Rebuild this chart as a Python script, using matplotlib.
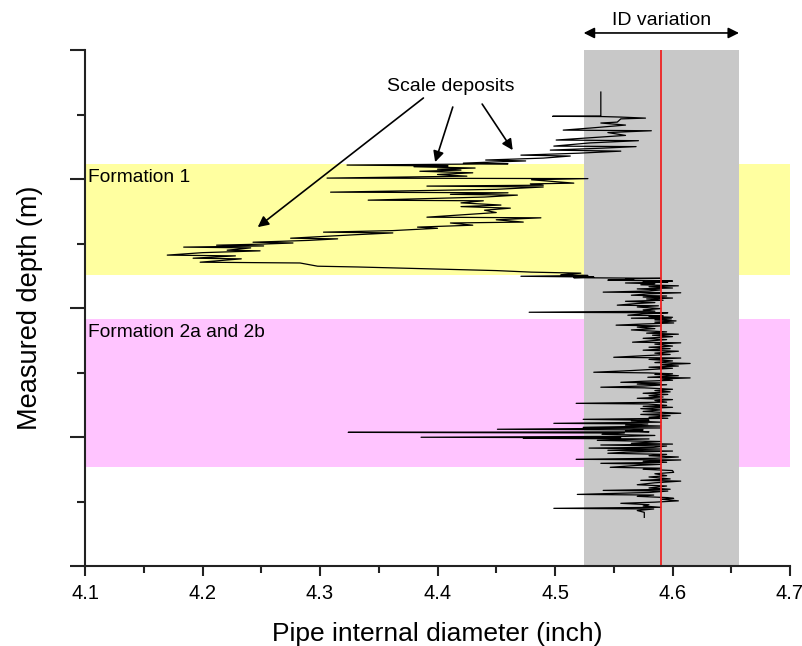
import matplotlib
matplotlib.use("Agg")
import matplotlib.pyplot as plt
from matplotlib.ticker import MultipleLocator, NullFormatter

plt.rcParams['font.family'] = ['Liberation Sans', 'DejaVu Sans']

# ---------------- data ----------------
x_ticks = [4.1, 4.2, 4.3, 4.4, 4.5, 4.6, 4.7]
x_tick_labels = ["4.1", "4.2", "4.3", "4.4", "4.5", "4.6", "4.7"]

id_min = 4.5244
id_max = 4.6566
id_nominal = 4.590

formation_names = ["Formation 1", "Formation 2a and 2b"]
formation_top = [88.4, 208.7]
formation_bottom = [174.6, 323.5]
formation_colors = ["#ffffa0", "#ffc4ff"]

# upper log (above and inside Formation 1)
pipe_id_upper = [
    4.539, 4.539, 4.498, 4.540, 4.556, 4.577, 4.556, 4.553, 4.539, 4.560,
    4.530, 4.507, 4.582, 4.545, 4.560, 4.501, 4.571, 4.530, 4.499, 4.569,
    4.540, 4.496, 4.556, 4.520, 4.471, 4.513, 4.490, 4.441, 4.475, 4.445,
    4.422, 4.460, 4.323, 4.409, 4.380, 4.432, 4.400, 4.420, 4.385, 4.430,
    4.400, 4.425, 4.306, 4.528, 4.480, 4.500, 4.516, 4.479, 4.490, 4.391,
    4.490, 4.450, 4.309, 4.460, 4.411, 4.468, 4.440, 4.341, 4.439, 4.420,
    4.454, 4.420, 4.462, 4.440, 4.450, 4.391, 4.488, 4.450, 4.473, 4.411,
    4.430, 4.383, 4.400, 4.362, 4.303, 4.362, 4.330, 4.275, 4.315, 4.290,
    4.243, 4.277, 4.250, 4.212, 4.252, 4.184, 4.241, 4.221, 4.249, 4.200,
    4.170, 4.228, 4.192, 4.233, 4.198, 4.283, 4.298, 4.332, 4.370, 4.411,
    4.450, 4.480, 4.522, 4.505, 4.528, 4.471, 4.533, 4.516,
]
depth_upper = [
    32.6, 51.2, 51.4, 51.6, 52.0, 52.8, 53.4, 55.9, 56.6, 58.2,
    60.5, 62.1, 62.6, 64.0, 66.2, 69.8, 70.3, 72.0, 74.5, 74.9,
    76.1, 77.6, 78.4, 80.0, 81.5, 82.2, 83.8, 85.3, 86.0, 86.9,
    87.7, 88.2, 89.2, 89.9, 90.5, 91.5, 92.4, 93.1, 94.0, 95.2,
    96.5, 97.8, 99.3, 99.7, 100.6, 102.0, 103.2, 103.8, 104.8, 105.5,
    106.2, 108.0, 110.2, 110.7, 111.9, 112.5, 114.0, 116.4, 116.9, 118.5,
    120.2, 121.4, 122.6, 124.2, 126.0, 129.6, 130.1, 131.6, 133.4, 134.1,
    135.8, 137.3, 138.2, 140.0, 141.2, 141.8, 143.2, 145.9, 146.4, 147.6,
    149.0, 149.6, 150.5, 151.3, 151.9, 152.8, 153.4, 155.2, 155.7, 157.1,
    159.0, 159.6, 161.4, 161.9, 164.5, 165.1, 167.6, 168.2, 169.1, 170.1,
    171.0, 172.2, 173.0, 174.2, 174.8, 175.4, 176.0, 176.5,
]

# lower log (below Formation 1, through Formation 2a/2b)
pipe_id_lower = [
    4.590, 4.560, 4.567, 4.545, 4.600, 4.575, 4.596, 4.560, 4.585, 4.573,
    4.605, 4.580, 4.600, 4.570, 4.590, 4.580, 4.541, 4.607, 4.580, 4.565,
    4.595, 4.575, 4.600, 4.578, 4.592, 4.560, 4.585, 4.570, 4.553, 4.588,
    4.570, 4.590, 4.575, 4.585, 4.478, 4.596, 4.575, 4.562, 4.592, 4.580,
    4.600, 4.565, 4.599, 4.585, 4.603, 4.585, 4.601, 4.575, 4.552, 4.590,
    4.570, 4.585, 4.565, 4.595, 4.578, 4.605, 4.583, 4.600, 4.575, 4.595,
    4.580, 4.566, 4.607, 4.585, 4.600, 4.580, 4.598, 4.575, 4.605, 4.585,
    4.598, 4.575, 4.550, 4.607, 4.580, 4.600, 4.585, 4.615, 4.590, 4.605,
    4.580, 4.600, 4.585, 4.565, 4.533, 4.579, 4.600, 4.585, 4.605, 4.579,
    4.615, 4.590, 4.600, 4.575, 4.556, 4.590, 4.570, 4.595, 4.575, 4.539,
    4.576, 4.600, 4.585, 4.598, 4.575, 4.596, 4.580, 4.592, 4.570, 4.600,
    4.585, 4.595, 4.518, 4.579, 4.595, 4.575, 4.600, 4.573, 4.590, 4.575,
    4.607, 4.573, 4.598, 4.580, 4.596, 4.524, 4.580, 4.565, 4.590, 4.499,
    4.579, 4.560, 4.590, 4.524, 4.590, 4.451, 4.575, 4.560, 4.580, 4.324,
    4.559, 4.540, 4.585, 4.560, 4.386, 4.556, 4.473, 4.580, 4.536, 4.590,
    4.565, 4.600, 4.539, 4.595, 4.584, 4.529, 4.590, 4.545, 4.600, 4.560,
    4.545, 4.595, 4.580, 4.605, 4.585, 4.518, 4.607, 4.575, 4.595, 4.539,
    4.590, 4.570, 4.547, 4.590, 4.575, 4.600, 4.601, 4.585, 4.595, 4.580,
    4.598, 4.573, 4.607, 4.585, 4.570, 4.595, 4.580, 4.598, 4.541, 4.596,
    4.580, 4.519, 4.584, 4.570, 4.596, 4.601, 4.590, 4.605, 4.585, 4.556,
    4.580, 4.575, 4.590, 4.499, 4.584, 4.570, 4.576, 4.576,
]
depth_lower = [
    177.0, 177.4, 178.0, 178.4, 179.1, 179.6, 180.0, 180.6, 181.2, 182.0,
    182.8, 183.5, 184.5, 185.2, 186.0, 186.8, 187.7, 188.2, 189.0, 190.1,
    190.7, 191.5, 192.3, 193.0, 194.0, 194.8, 195.8, 196.5, 197.8, 198.3,
    199.2, 200.5, 201.5, 202.5, 203.3, 203.7, 204.5, 205.6, 206.0, 206.5,
    207.2, 207.9, 208.4, 209.2, 210.0, 211.0, 211.6, 212.4, 213.3, 213.9,
    214.8, 216.0, 217.0, 218.5, 219.5, 220.3, 221.1, 222.2, 223.5, 224.5,
    225.5, 226.5, 227.0, 228.0, 229.5, 230.4, 231.5, 232.7, 233.5, 235.0,
    236.0, 237.0, 238.2, 238.8, 239.8, 241.0, 242.3, 243.0, 244.0, 245.0,
    245.9, 246.7, 247.5, 248.5, 249.8, 250.3, 251.0, 251.5, 252.5, 253.7,
    254.2, 255.0, 256.0, 256.8, 257.6, 258.1, 259.0, 259.5, 260.5, 261.4,
    261.9, 263.0, 264.0, 265.0, 266.1, 267.0, 268.0, 269.0, 270.0, 271.0,
    271.8, 273.0, 273.9, 274.4, 275.5, 276.2, 277.0, 278.0, 279.0, 280.2,
    281.6, 282.5, 283.5, 284.7, 285.5, 286.3, 287.0, 287.5, 288.5, 289.4,
    289.9, 290.8, 291.5, 292.5, 293.0, 294.0, 294.5, 295.2, 296.0, 296.4,
    296.9, 297.9, 298.8, 299.5, 300.2, 300.6, 301.0, 301.5, 302.6, 303.5,
    304.9, 305.5, 306.2, 307.0, 308.0, 308.6, 309.3, 310.3, 310.9, 311.8,
    312.6, 313.5, 314.5, 315.5, 316.5, 317.3, 317.8, 318.8, 319.6, 320.4,
    321.2, 322.0, 323.5, 324.2, 325.0, 326.0, 327.4, 328.5, 330.0, 331.0,
    332.5, 333.6, 334.2, 335.5, 337.0, 338.0, 339.5, 340.5, 341.4, 341.9,
    343.0, 344.5, 345.0, 346.0, 347.0, 347.6, 348.2, 349.5, 350.5, 351.4,
    352.5, 353.5, 354.5, 355.3, 355.8, 357.0, 358.4, 362.3,
]

scale_text_pos = (4.411, 28.5)
scale_arrow_starts = [(4.388, 37.2), (4.413, 44.2), (4.438, 41.9)]
scale_arrow_tips = [(4.247, 137.3), (4.398, 86.9), (4.464, 77.6)]

# ---------------- figure ----------------
fig = plt.figure(figsize=(8.03, 6.46), dpi=100)
ax = fig.add_axes([85 / 803, 80 / 646, 705 / 803, 516 / 646])

for top, bot, col in zip(formation_top, formation_bottom, formation_colors):
    ax.axhspan(top, bot, color=col, lw=0, zorder=0)

ax.axvspan(id_min, id_max, color="#c8c8c8", lw=0, zorder=1)

ax.plot(pipe_id_upper + pipe_id_lower, depth_upper + depth_lower,
        color="black", lw=0.9, zorder=3)
ax.axvline(id_nominal, color="#ee2222", lw=1.3, zorder=4)

for name, top in zip(formation_names, formation_top):
    ax.text(4.1025, top + 3.5, name, fontsize=13.8, va="top", ha="left", zorder=5)

ax.text(scale_text_pos[0], scale_text_pos[1], "Scale deposits", fontsize=14,
        ha="center", va="center", zorder=6)
for s, t in zip(scale_arrow_starts, scale_arrow_tips):
    ax.annotate("", xy=t, xytext=s,
                arrowprops=dict(arrowstyle="-|>", color="black", lw=1.2,
                                mutation_scale=16, shrinkA=0, shrinkB=0),
                zorder=6)

ax.annotate("", xy=(id_min, 1.033), xytext=(id_max, 1.033),
            xycoords=("data", "axes fraction"), textcoords=("data", "axes fraction"),
            arrowprops=dict(arrowstyle="<|-|>", color="black", lw=1.2,
                            mutation_scale=16, shrinkA=0, shrinkB=0),
            annotation_clip=False)
ax.text((id_min + id_max) / 2, 1.058, "ID variation", fontsize=14, ha="center",
        va="center", transform=ax.get_xaxis_transform())

ax.set_xlim(4.1, 4.7)
ax.set_ylim(400, 0)
ax.set_xticks(x_ticks)
ax.set_xticklabels(x_tick_labels)
ax.xaxis.set_minor_locator(MultipleLocator(0.05))
ax.yaxis.set_major_locator(MultipleLocator(100))
ax.yaxis.set_minor_locator(MultipleLocator(50))
ax.yaxis.set_major_formatter(NullFormatter())

for side in ("top", "right"):
    ax.spines[side].set_visible(False)
for side in ("left", "bottom"):
    ax.spines[side].set_linewidth(1.5)
    ax.spines[side].set_color("#222222")
    ax.spines[side].set_zorder(7)

ax.tick_params(axis="y", which="major", direction="out", length=11, width=1.5, color="#222222")
ax.tick_params(axis="y", which="minor", direction="out", length=5.5, width=1.5, color="#222222")
ax.tick_params(axis="x", which="major", direction="out", length=7, width=1.5,
               labelsize=14.5, pad=6, color="#222222")
ax.tick_params(axis="x", which="minor", direction="out", length=5, width=1.5, color="#222222")

ax.set_xlabel("Pipe internal diameter (inch)", fontsize=19, labelpad=14)
ax.set_ylabel("Measured depth (m)", fontsize=19.5, labelpad=16)

fig.savefig("out.png", dpi=100)
